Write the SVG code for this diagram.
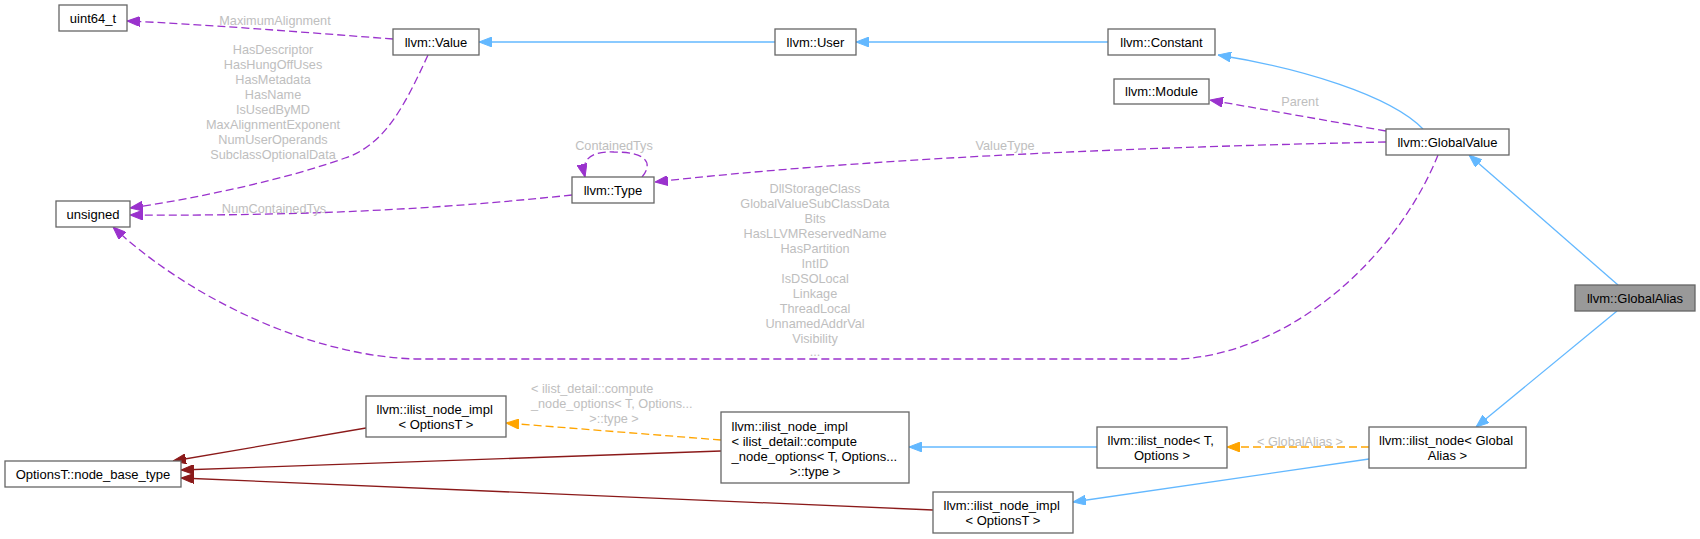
<svg xmlns="http://www.w3.org/2000/svg" width="1700" height="539" viewBox="0 0 1700 539">
<style>
.n rect{fill:#fff;stroke:#666;stroke-width:1.3}
.n text{font-family:"Liberation Sans",Arial,sans-serif;font-size:13px;fill:#000}
.c{text-anchor:middle}
.e path{fill:none;stroke-width:1.3}
.blue{stroke:#63b8ff}
.pur{stroke:#9a32cd;stroke-dasharray:8,4}
.org{stroke:#ffa500;stroke-dasharray:8,4}
.red{stroke:#8b1a1a}
.lb{font-family:"Liberation Sans",Arial,sans-serif;font-size:12.7px;fill:#bebebe}
</style>
<defs>
<marker id="mb" viewBox="0 0 13 10" refX="13" refY="5" markerWidth="13" markerHeight="10" markerUnits="userSpaceOnUse" orient="auto"><path d="M0,0 L13,5 L0,10 z" fill="#63b8ff" stroke="#63b8ff"/></marker>
<marker id="mp" viewBox="0 0 13 10" refX="13" refY="5" markerWidth="13" markerHeight="10" markerUnits="userSpaceOnUse" orient="auto"><path d="M0,0 L13,5 L0,10 z" fill="#9a32cd" stroke="#9a32cd"/></marker>
<marker id="mo" viewBox="0 0 13 10" refX="13" refY="5" markerWidth="13" markerHeight="10" markerUnits="userSpaceOnUse" orient="auto"><path d="M0,0 L13,5 L0,10 z" fill="#ffa500" stroke="#ffa500"/></marker>
<marker id="mr" viewBox="0 0 13 10" refX="13" refY="5" markerWidth="13" markerHeight="10" markerUnits="userSpaceOnUse" orient="auto"><path d="M0,0 L13,5 L0,10 z" fill="#8b1a1a" stroke="#8b1a1a"/></marker>
</defs>
<rect width="1700" height="539" fill="#fff"/>
<g id="connectors" class="e">
<path class="blue" d="M775,42 L479,42" marker-end="url(#mb)"/>
<path class="blue" d="M1108,42 L856,42" marker-end="url(#mb)"/>
<path class="blue" d="M1423,129 C1390,95 1300,68 1218,55" marker-end="url(#mb)"/>
<path class="blue" d="M1618,285 L1469,155" marker-end="url(#mb)"/>
<path class="blue" d="M1617,311 L1476,427" marker-end="url(#mb)"/>
<path class="org" d="M1369,447 L1227,447" marker-end="url(#mo)"/>
<path class="blue" d="M1369,459 L1073,502" marker-end="url(#mb)"/>
<path class="blue" d="M1097,447 L909,447" marker-end="url(#mb)"/>
<path class="org" d="M721,440 L506,423" marker-end="url(#mo)"/>
<path class="red" d="M721,451 L181,470" marker-end="url(#mr)"/>
<path class="red" d="M933,510 L181,478" marker-end="url(#mr)"/>
<path class="red" d="M366,428 L173,461" marker-end="url(#mr)"/>
<path class="pur" d="M393,39 C300,32 200,24 127,21" marker-end="url(#mp)"/>
<path class="pur" d="M428,55 C405,105 385,145 345,158 C290,178 200,198 130,208" marker-end="url(#mp)"/>
<path class="pur" d="M572,195 C430,210 300,216 130,215" marker-end="url(#mp)"/>
<path class="pur" d="M642,177 C652,165 650,152 614,152 C590,151 581,160 585,177" marker-end="url(#mp)"/>
<path class="pur" d="M1386,131 L1210,100" marker-end="url(#mp)"/>
<path class="pur" d="M1386,142 C1100,148 850,160 655,182" marker-end="url(#mp)"/>
<path class="pur" d="M1438,155 C1400,250 1300,350 1182,359 L415,359 C300,355 180,290 113,227" marker-end="url(#mp)"/>
<g class="lb">
<text x="275" y="25" text-anchor="middle">MaximumAlignment</text>
<text x="273" y="53.5" text-anchor="middle">HasDescriptor</text>
<text x="273" y="68.5" text-anchor="middle">HasHungOffUses</text>
<text x="273" y="83.5" text-anchor="middle">HasMetadata</text>
<text x="273" y="98.5" text-anchor="middle">HasName</text>
<text x="273" y="113.5" text-anchor="middle">IsUsedByMD</text>
<text x="273" y="128.5" text-anchor="middle">MaxAlignmentExponent</text>
<text x="273" y="143.5" text-anchor="middle">NumUserOperands</text>
<text x="273" y="158.5" text-anchor="middle">SubclassOptionalData</text>
<text x="274" y="212.5" text-anchor="middle">NumContainedTys</text>
<text x="614" y="149.5" text-anchor="middle">ContainedTys</text>
<text x="1300" y="106" text-anchor="middle">Parent</text>
<text x="1005" y="149.5" text-anchor="middle">ValueType</text>
<text x="815" y="192.5" text-anchor="middle">DllStorageClass</text>
<text x="815" y="207.5" text-anchor="middle">GlobalValueSubClassData</text>
<text x="815" y="222.5" text-anchor="middle">Bits</text>
<text x="815" y="237.5" text-anchor="middle">HasLLVMReservedName</text>
<text x="815" y="252.5" text-anchor="middle">HasPartition</text>
<text x="815" y="267.5" text-anchor="middle">IntID</text>
<text x="815" y="282.5" text-anchor="middle">IsDSOLocal</text>
<text x="815" y="297.5" text-anchor="middle">Linkage</text>
<text x="815" y="312.5" text-anchor="middle">ThreadLocal</text>
<text x="815" y="327.5" text-anchor="middle">UnnamedAddrVal</text>
<text x="815" y="342.5" text-anchor="middle">Visibility</text>
<text x="815" y="355.5" text-anchor="middle">...</text>
<text x="531" y="392.5">&lt; ilist_detail::compute</text>
<text x="531" y="407.5">_node_options&lt; T, Options...</text>
<text x="614" y="422.5" text-anchor="middle">&gt;::type &gt;</text>
<text x="1300" y="445.5" text-anchor="middle">&lt; GlobalAlias &gt;</text>
</g>
</g>
<g id="n_uint64" class="n"><rect x="59" y="5" width="68" height="26"/><text class="c" x="93" y="22.5">uint64_t</text></g>
<g id="n_value" class="n"><rect x="393" y="29" width="86" height="26"/><text class="c" x="436" y="46.5">llvm::Value</text></g>
<g id="n_user" class="n"><rect x="775" y="29" width="81" height="26"/><text class="c" x="815.5" y="46.5">llvm::User</text></g>
<g id="n_constant" class="n"><rect x="1108" y="29" width="107" height="26"/><text class="c" x="1161.5" y="46.5">llvm::Constant</text></g>
<g id="n_module" class="n"><rect x="1114" y="79" width="95" height="25"/><text class="c" x="1161.5" y="96">llvm::Module</text></g>
<g id="n_globalvalue" class="n"><rect x="1386" y="129" width="123" height="26"/><text class="c" x="1447.5" y="146.5">llvm::GlobalValue</text></g>
<g id="n_unsigned" class="n"><rect x="56" y="201" width="74" height="26"/><text class="c" x="93" y="218.5">unsigned</text></g>
<g id="n_type" class="n"><rect x="572" y="177" width="82" height="26"/><text class="c" x="613" y="194.5">llvm::Type</text></g>
<g id="n_globalalias" class="n"><rect x="1575" y="285" width="120" height="26" style="fill:#999"/><text class="c" x="1635" y="302.5">llvm::GlobalAlias</text></g>
<g id="n_ilist_node_ga" class="n"><rect x="1369" y="427" width="157" height="41"/><text x="1379" y="445">llvm::ilist_node&lt; Global</text><text class="c" x="1447.5" y="460">Alias &gt;</text></g>
<g id="n_ilist_node_t" class="n"><rect x="1097" y="427" width="130" height="41"/><text x="1107.5" y="445">llvm::ilist_node&lt; T,</text><text class="c" x="1162" y="460">Options &gt;</text></g>
<g id="n_impl_detail" class="n"><rect x="721" y="412" width="188" height="71"/><text x="731.5" y="430.5">llvm::ilist_node_impl</text><text x="731.5" y="445.5">&lt; ilist_detail::compute</text><text x="731.5" y="460.5">_node_options&lt; T, Options...</text><text class="c" x="815" y="475.5">&gt;::type &gt;</text></g>
<g id="n_impl_opt_bottom" class="n"><rect x="933" y="492" width="140" height="41"/><text x="943.5" y="510">llvm::ilist_node_impl</text><text class="c" x="1003" y="525">&lt; OptionsT &gt;</text></g>
<g id="n_impl_opt_top" class="n"><rect x="366" y="396" width="140" height="41"/><text x="376.5" y="414">llvm::ilist_node_impl</text><text class="c" x="436" y="429">&lt; OptionsT &gt;</text></g>
<g id="n_node_base" class="n"><rect x="5" y="461" width="176" height="26"/><text class="c" x="93" y="478.5">OptionsT::node_base_type</text></g>
</svg>
